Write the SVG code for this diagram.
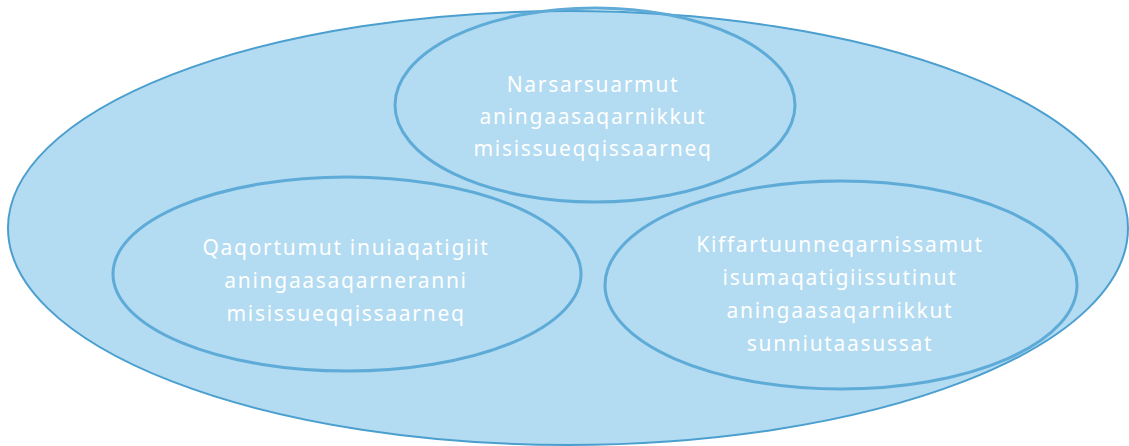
<svg xmlns="http://www.w3.org/2000/svg" width="1129" height="446" viewBox="0 0 1129 446">
<style>
.outer{fill:#b3dbf1;stroke:#4a9fcf;stroke-width:2}
.inner{fill:none;stroke:#5eabd8;stroke-width:3}
.lbl{font-family:"Noto Sans","Liberation Sans",sans-serif;font-size:21px;fill:#ffffff;text-anchor:middle;letter-spacing:1.7px}
</style>
<rect width="1129" height="446" fill="#ffffff"/>
<g id="outer">
<ellipse class="outer" cx="568" cy="228" rx="560" ry="217"/>
</g>
<g id="connectors"></g>
<g id="node-top">
<ellipse class="inner" cx="595" cy="105" rx="200" ry="97"/>
<text class="lbl" x="593" y="92">Narsarsuarmut</text>
<text class="lbl" x="593" y="124">aningaasaqarnikkut</text>
<text class="lbl" x="593" y="156">misissueqqissaarneq</text>
</g>
<g id="node-left">
<ellipse class="inner" cx="347" cy="274" rx="234" ry="97"/>
<text class="lbl" x="346" y="255">Qaqortumut inuiaqatigiit</text>
<text class="lbl" x="346" y="288">aningaasaqarneranni</text>
<text class="lbl" x="346" y="321">misissueqqissaarneq</text>
</g>
<g id="node-right">
<ellipse class="inner" cx="841" cy="285" rx="236" ry="104"/>
<text class="lbl" x="840" y="252">Kiffartuunneqarnissamut</text>
<text class="lbl" x="840" y="285">isumaqatigiissutinut</text>
<text class="lbl" x="840" y="318">aningaasaqarnikkut</text>
<text class="lbl" x="840" y="351">sunniutaasussat</text>
</g>
</svg>
